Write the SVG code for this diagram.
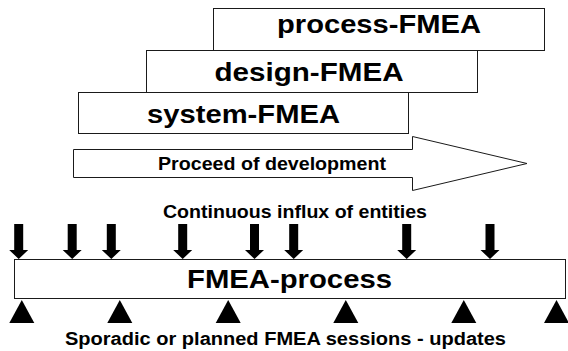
<svg xmlns="http://www.w3.org/2000/svg" xmlns:xlink="http://www.w3.org/1999/xlink" width="568" height="351" viewBox="0 0 568 351">
  <style>
    .box { fill: #ffffff; stroke: #1a1a1a; stroke-width: 1; }
    .big { font-family: "Liberation Sans", Arial, sans-serif; font-weight: bold; font-size: 26px; fill: #000; text-anchor: middle; }
    .mid { font-family: "Liberation Sans", Arial, sans-serif; font-weight: bold; font-size: 18px; fill: #000; text-anchor: middle; }
    .solid { fill: #000; stroke: none; }
  </style>
  <defs>
    <polygon id="down" class="solid" points="-4.5,0 4.5,0 4.5,26 9.5,26 0,35 -9.5,26 -4.5,26"/>
    <polygon id="up" class="solid" points="0,0 12.5,23 -12.5,23"/>
  </defs>
  <rect width="568" height="351" fill="#ffffff"/>

  <g id="process-fmea">
    <rect class="box" x="213.5" y="8.5" width="331" height="42"/>
    <text class="big" x="379" y="33" textLength="204" lengthAdjust="spacingAndGlyphs">process-FMEA</text>
  </g>
  <g id="design-fmea">
    <rect class="box" x="146.5" y="50.5" width="331" height="42"/>
    <text class="big" x="309" y="80.5" textLength="189" lengthAdjust="spacingAndGlyphs">design-FMEA</text>
  </g>
  <g id="system-fmea">
    <rect class="box" x="78.5" y="92.5" width="330" height="41"/>
    <text class="big" x="243.5" y="122.5" textLength="193" lengthAdjust="spacingAndGlyphs">system-FMEA</text>
  </g>

  <g id="development-arrow">
    <polygon class="box" points="73.5,149.5 412.5,149.5 412.5,136.5 527,163.5 412.5,190.5 412.5,177.5 73.5,177.5"/>
    <text class="mid" x="272" y="170" textLength="228" lengthAdjust="spacingAndGlyphs">Proceed of development</text>
  </g>

  <g id="influx-label">
    <text class="mid" x="295" y="218" textLength="264" lengthAdjust="spacingAndGlyphs">Continuous influx of entities</text>
  </g>

  <g id="fmea-process">
    <rect class="box" x="14.5" y="259.5" width="551" height="39"/>
    <text class="big" x="289.5" y="288" textLength="205" lengthAdjust="spacingAndGlyphs">FMEA-process</text>
  </g>

  <g id="sessions-label">
    <text class="mid" x="285.5" y="345" textLength="441" lengthAdjust="spacingAndGlyphs">Sporadic or planned FMEA sessions - updates</text>
  </g>

  <g id="connectors">
    <use xlink:href="#down" x="18.7" y="224"/>
    <use xlink:href="#down" x="72.2" y="224"/>
    <use xlink:href="#down" x="111.3" y="224"/>
    <use xlink:href="#down" x="182.7" y="224"/>
    <use xlink:href="#down" x="254.5" y="224"/>
    <use xlink:href="#down" x="293.7" y="224"/>
    <use xlink:href="#down" x="406.7" y="224"/>
    <use xlink:href="#down" x="490" y="224"/>
    <use xlink:href="#up" x="21.8" y="300"/>
    <use xlink:href="#up" x="119.8" y="300"/>
    <use xlink:href="#up" x="228.2" y="300"/>
    <use xlink:href="#up" x="345.8" y="300"/>
    <use xlink:href="#up" x="463.8" y="300"/>
    <use xlink:href="#up" x="556.5" y="300"/>
  </g>
</svg>
